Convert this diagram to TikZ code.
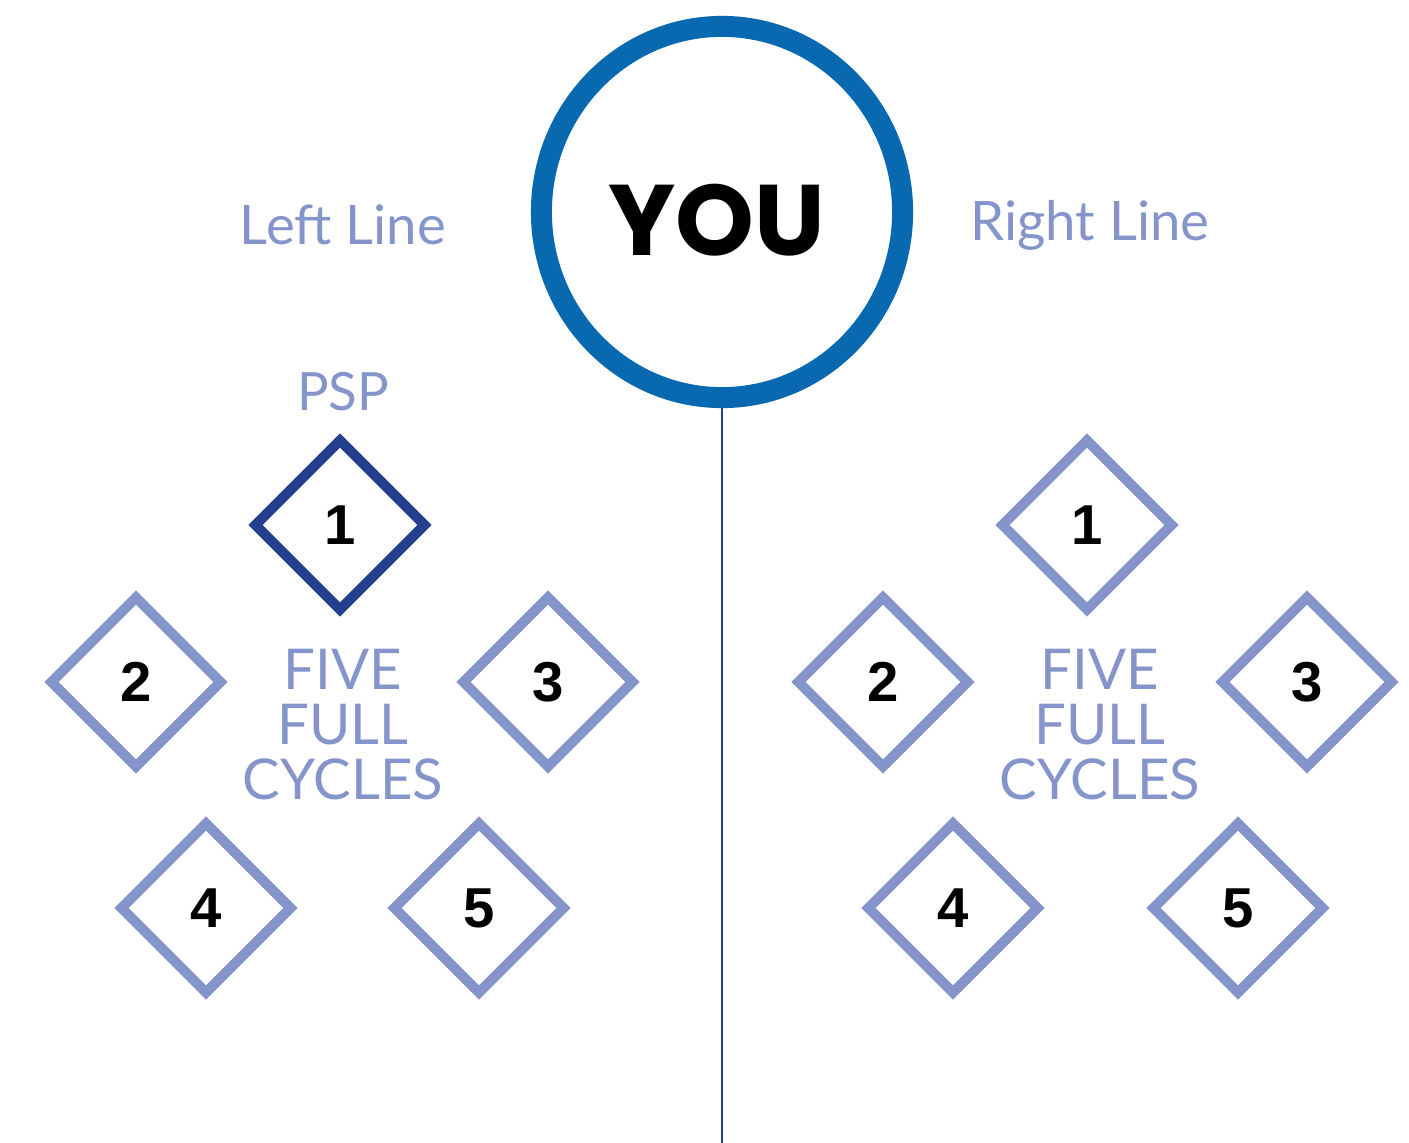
\documentclass[tikz,border=0pt]{standalone}
\usepackage{fontspec}
\setmainfont{Lato}
\newfontfamily\youfont{Poppins}
\newfontfamily\digitfont{Liberation Sans}
\usepackage{tikz}
\usetikzlibrary{shapes,positioning}
\definecolor{youblue}{HTML}{0868B0}
\definecolor{cyclight}{HTML}{8595CB}
\definecolor{cycdark}{HTML}{253F8F}
\newcommand{\linesize}{\fontsize{15.5}{20}\selectfont}
\newcommand{\cycsize}{\fontsize{16}{15.65}\selectfont}
\newcommand{\digitsize}{\fontsize{16}{18}\selectfont\digitfont\bfseries}

\begin{document}
\begin{tikzpicture}[x=0.01cm, y=-0.01cm,
  cyc/.style={draw=cyclight, line width=0.1cm, diamond, inner sep=0pt, minimum width=1.73cm, minimum height=1.73cm, font=\digitsize},
  cycpsp/.style={cyc, draw=cycdark},
  lbl/.style={text=cyclight, align=center}]
\useasboundingbox (0,0) rectangle (1409,1143);
\draw
  node at (722,212)[draw=youblue, line width=0.21cm, ellipse, inner sep=0pt, minimum width=3.61cm, minimum height=3.71cm](you){\raisebox{-0.08cm}[\height][\depth]{\youfont\bfseries\fontsize{28.5}{30}\selectfont\kern-0.05cm YOU\kern0.05cm}}
  node at (343,225)[lbl, font=\linesize](leftline){Left Line}
  node at (1090,225)[lbl, font=\linesize](rightline){Right Line}
  node at (343,392)[lbl, font=\fontsize{15}{18}\selectfont](psp){PSP}
  % left line
  node at (340,525)[cycpsp](lone){1}
  node at (136,682)[cyc](ltwo){2}
  node at (548,682)[cyc](lthree){3}
  node at (206,908)[cyc](lfour){4}
  node at (479,908)[cyc](lfive){5}
  node at (343,725)[lbl, font=\cycsize](lcycles){FIVE\\FULL\\CYCLES}
  % right line
  node at (1087,525)[cyc](rone){1}
  node at (883,682)[cyc](rtwo){2}
  node at (1307,682)[cyc](rthree){3}
  node at (953,908)[cyc](rfour){4}
  node at (1238,908)[cyc](rfive){5}
  node at (1100,725)[lbl, font=\cycsize](rcycles){FIVE\\FULL\\CYCLES};
  \coordinate (bottom) at (722,1143);
  \draw[cycdark, line width=0.02cm] (you.south) -- (bottom);
\end{tikzpicture}
\end{document}
